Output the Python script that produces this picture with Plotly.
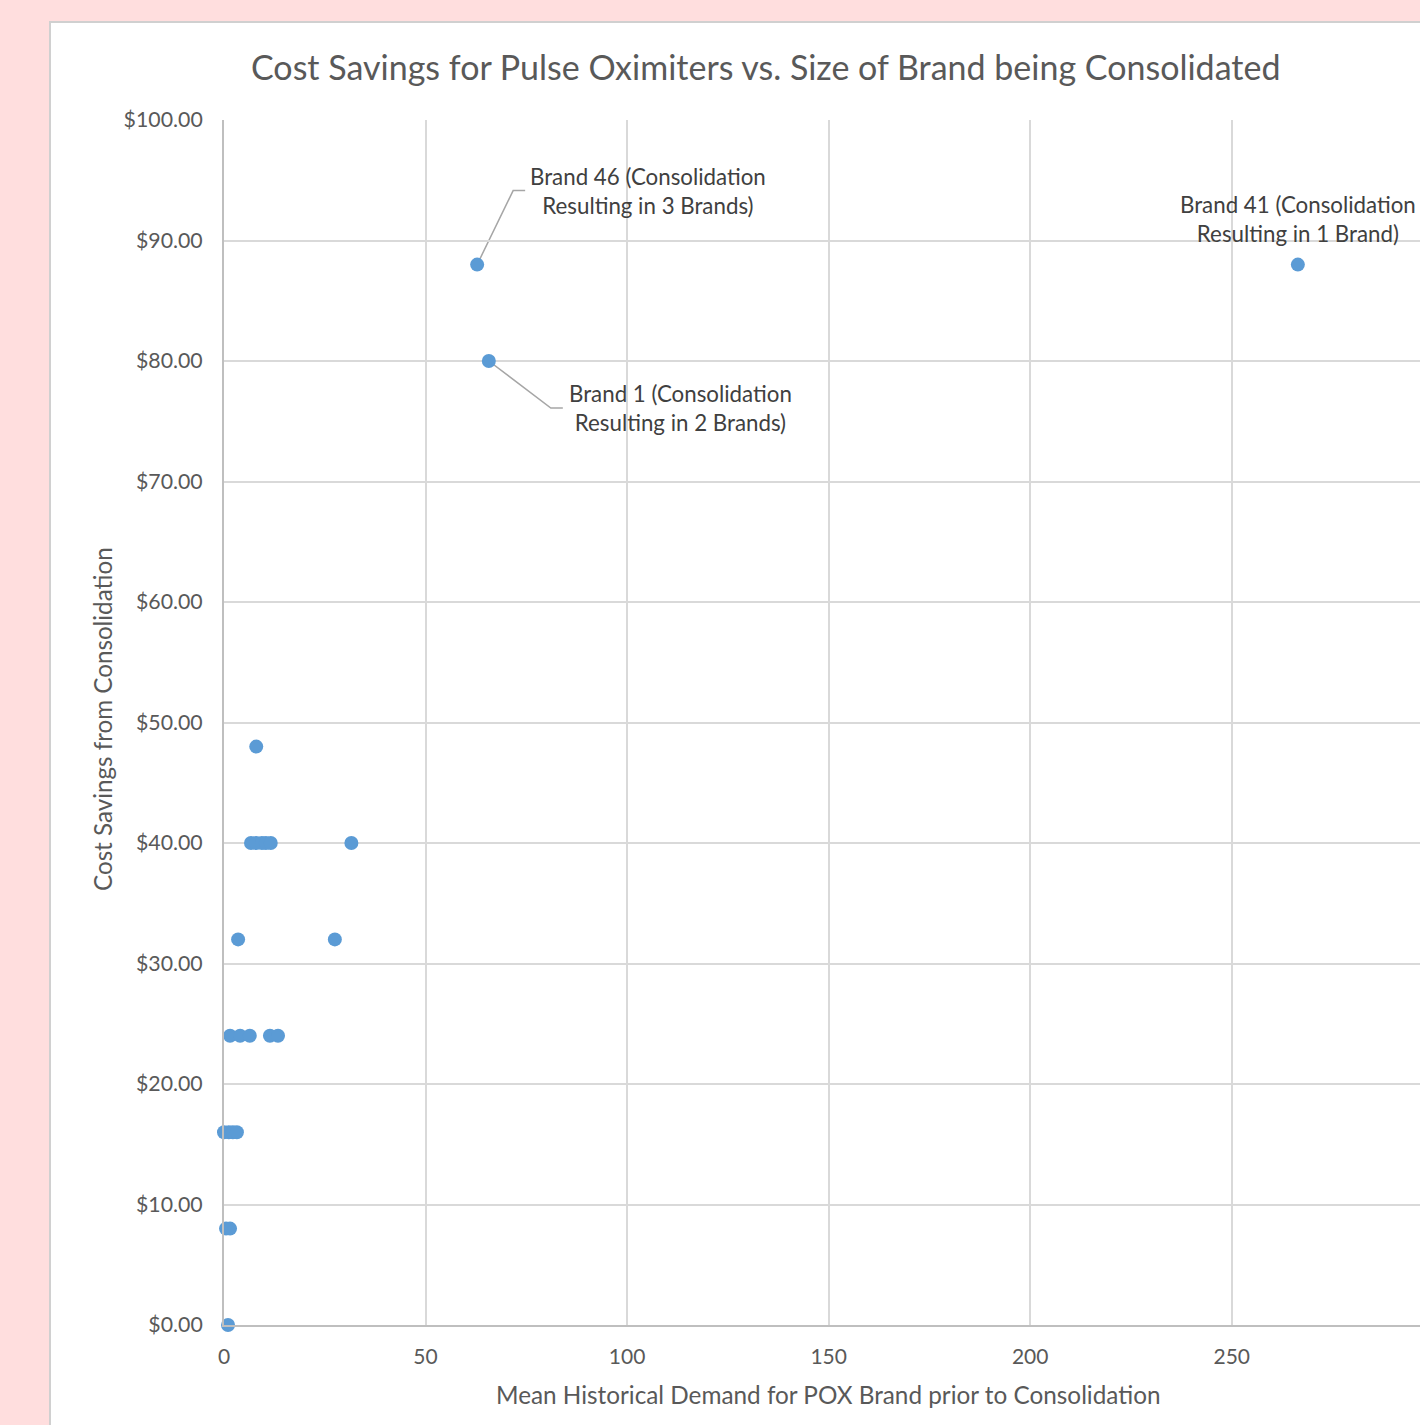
import plotly.graph_objects as go

# Mean historical demand (x) and cost savings (y) for each brand
demand = [1.0, 0.5, 1.5, 0.0, 1.2, 2.2, 3.2, 1.5, 4.0, 6.4, 11.4, 13.4,
          3.5, 27.5, 6.7, 8.0, 9.4, 10.4, 11.6, 31.6, 8.0,
          65.7, 62.8, 266.4]
savings = [0.0, 8.0, 8.0, 16.0, 16.0, 16.0, 16.0, 24.0, 24.0, 24.0, 24.0, 24.0,
           32.0, 32.0, 40.0, 40.0, 40.0, 40.0, 40.0, 40.0, 48.0,
           80.0, 88.0, 88.0]

# Labelled brands: index into the arrays above and the label text
callout_idx = [22, 21, 23]
callout_text = [
    "Brand 46 (Consolidation<br>Resulting in 3 Brands)",
    "Brand 1 (Consolidation<br>Resulting in 2 Brands)",
    "Brand 41 (Consolidation<br>Resulting in 1 Brand)",
]
# label offsets (pixels) and leader-line elbows (pixels, y up), None = no leader
callout_shift = [(171, 74), (192, -47), (0, 46)]
callout_leader = [[(36, 74), (48, 74)], [(62, -47), (74, -47)], None]

x_ticks = [0, 50, 100, 150, 200, 250, 300]
y_ticks = [0, 10, 20, 30, 40, 50, 60, 70, 80, 90, 100]

FONT = "Lato"
TXT = "#595959"
GRID = "#D9D9D9"

fig = go.Figure()
fig.add_trace(go.Scatter(
    x=demand, y=savings, mode="markers",
    marker=dict(size=14, color="#5B9BD5"),
    hoverinfo="x+y", showlegend=False, cliponaxis=False,
))

annotations = []
shapes = []

# white chart frame on the pink page
L, T, R, B = 224, 120, 1420, 1325
pw, ph = R - L, B - T
shapes.append(dict(
    type="rect", xref="paper", yref="paper", layer="below",
    x0=(50 - L) / pw, x1=1.2, y0=-0.2, y1=(B - 22) / ph,
    fillcolor="white", line=dict(color="#D0D0D0", width=2),
))

for i, txt, (dx, dy), leader in zip(callout_idx, callout_text, callout_shift, callout_leader):
    annotations.append(dict(
        x=demand[i], y=savings[i], xref="x", yref="y",
        text=txt, showarrow=False, xshift=dx, yshift=dy,
        xanchor="center", yanchor="middle", align="center",
        font=dict(family=FONT, size=22.3, color="#404040"),
    ))
    if leader:
        path = "M 0 0 " + " ".join(f"L {px} {py}" for px, py in leader)
        shapes.append(dict(
            type="path", xref="x", yref="y",
            xsizemode="pixel", ysizemode="pixel",
            xanchor=demand[i], yanchor=savings[i],
            path=path, line=dict(color="#A6A6A6", width=1.5),
            layer="below",
        ))

# chart title
annotations.append(dict(
    x=(765 - L) / pw, y=1, xref="paper", yref="paper", yshift=54,
    text="Cost Savings for Pulse Oximiters vs. Size of Brand being Consolidated",
    showarrow=False, xanchor="center", yanchor="middle",
    font=dict(family=FONT, size=34, color=TXT),
))
# axis titles
annotations.append(dict(
    x=(828 - L) / pw, y=0, xref="paper", yref="paper", yshift=-69,
    text="Mean Historical Demand for POX Brand prior to Consolidation",
    showarrow=False, xanchor="center", yanchor="middle",
    font=dict(family=FONT, size=24.3, color=TXT),
))
annotations.append(dict(
    x=0, y=(B - 719) / ph, xref="paper", yref="paper", xshift=-122,
    text="Cost Savings from Consolidation", textangle=-90,
    showarrow=False, xanchor="center", yanchor="middle",
    font=dict(family=FONT, size=24.2, color=TXT),
))

fig.update_layout(
    width=1420, height=1425,
    margin=dict(l=L, r=1420 - R, t=T, b=1425 - B, pad=0),
    paper_bgcolor="#FFDEDE", plot_bgcolor="white",
    font=dict(family=FONT, color=TXT),
    annotations=annotations, shapes=shapes,
    showlegend=False,
)
fig.update_xaxes(
    range=[0, pw / 4.031], tickvals=x_ticks, ticktext=[str(v) for v in x_ticks],
    showgrid=True, gridcolor=GRID, gridwidth=1.5,
    showline=True, linecolor="#BFBFBF", linewidth=2, zeroline=False, ticks="",
    tickfont=dict(family=FONT, size=21, color=TXT), ticklabelstandoff=12,
)
fig.update_yaxes(
    range=[0, 100], tickvals=y_ticks, ticktext=[f"${v:.2f}" for v in y_ticks],
    showgrid=True, gridcolor=GRID, gridwidth=1.5,
    showline=True, linecolor="#BFBFBF", linewidth=2,
    zeroline=True, zerolinecolor="#BFBFBF", zerolinewidth=2,
    ticks="", tickfont=dict(family=FONT, size=21.3, color=TXT), ticklabelstandoff=15,
)

fig.write_html("out.html")
